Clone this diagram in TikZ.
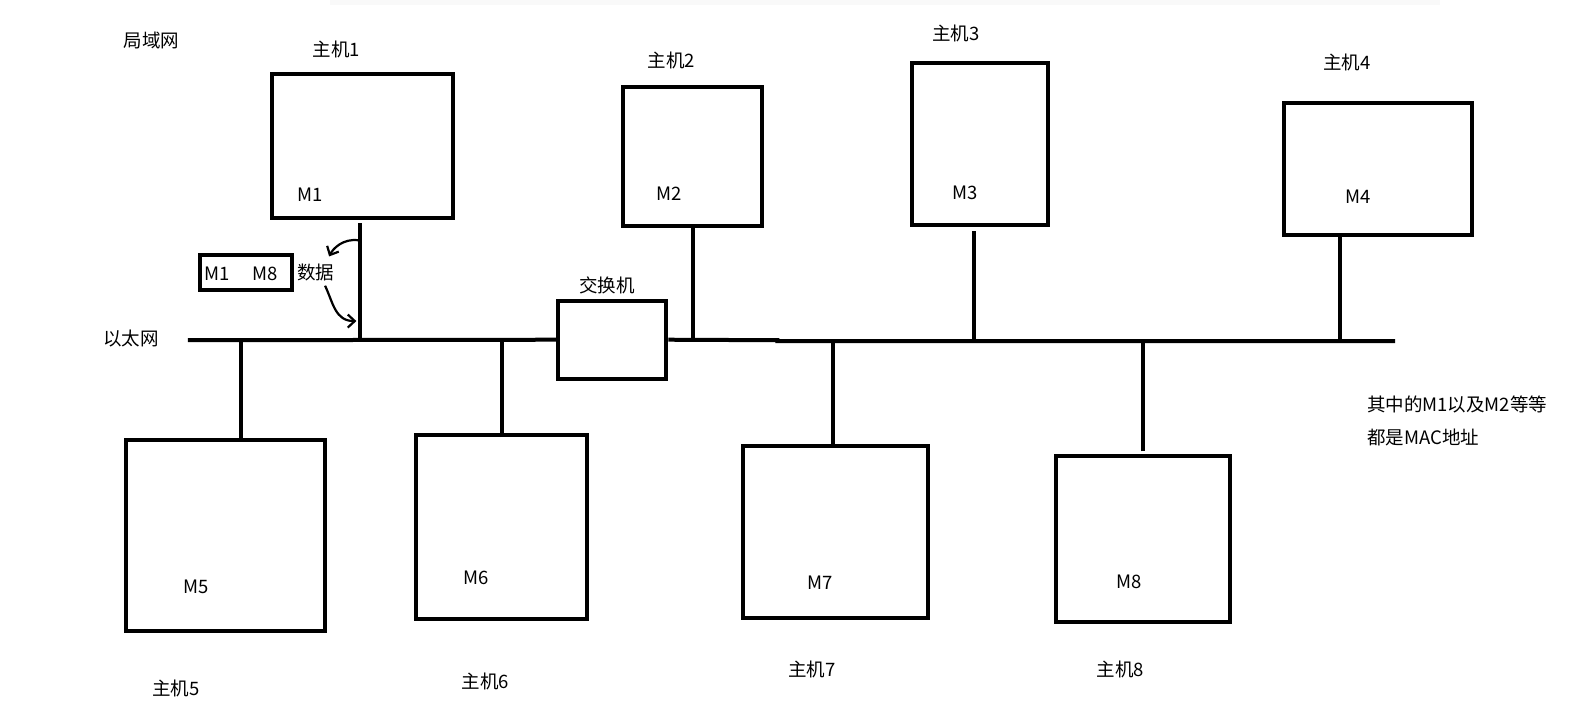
\documentclass[tikz,border=0pt]{standalone}
\usepackage{fontspec}
\setmainfont{Noto Sans CJK SC}
\usetikzlibrary{arrows.meta,fit}
\begin{document}
\begin{tikzpicture}[x=1.0096pt,y=-1.0096pt,
  box/.style={draw, line width=4pt, inner sep=0pt},
  lbl/.style={font=\fontsize{18.5}{22}\selectfont, inner sep=0pt},
  wire/.style={line width=4pt},
  flow/.style={line width=2.2pt, -{Straight Barb[length=7pt,width=13pt,line width=2.2pt]}}]
\useasboundingbox (0,0) rectangle (1568,709);
\fill[gray!5] (327,0) rectangle (1426,5);
% labels
\node[lbl] (lan) at (150,40) {局域网};
\node[lbl] (eth) at (130,335) {以太网};
% top hosts
\node[box, fit={(269,73) (449,216)}] (h1) {};
\node[lbl] (h1n) at (333,49) {主机1};
\node[lbl] (m1) at (307,193) {M1};
\node[box, fit={(617,86) (755,224)}] (h2) {};
\node[lbl] (h2n) at (665,60) {主机2};
\node[lbl] (m2) at (663,192) {M2};
\node[box, fit={(903,62) (1038,223)}] (h3) {};
\node[lbl] (h3n) at (947,33) {主机3};
\node[lbl] (m3) at (956,191) {M3};
\node[box, fit={(1272,102) (1458,233)}] (h4) {};
\node[lbl] (h4n) at (1334,62) {主机4};
\node[lbl] (m4) at (1345,195) {M4};
% bottom hosts
\node[box, fit={(125,436) (322,625)}] (h5) {};
\node[lbl] (h5n) at (174,682) {主机5};
\node[lbl] (m5) at (194,581) {M5};
\node[box, fit={(412,431) (581,613)}] (h6) {};
\node[lbl] (h6n) at (481,675) {主机6};
\node[lbl] (m6) at (472,572) {M6};
\node[box, fit={(736,442) (919,612)}] (h7) {};
\node[lbl] (h7n) at (804,663) {主机7};
\node[lbl] (m7) at (812,577) {M7};
\node[box, fit={(1046,452) (1218,616)}] (h8) {};
\node[lbl] (h8n) at (1110,663) {主机8};
\node[lbl] (m8) at (1118,576) {M8};
% switch
\node[box, fit={(553,298) (660,375)}] (sw) {};
\node[lbl] (swn) at (601,283) {交换机};
% frame box
\node[box, fit={(198,253) (289,287)}] (frame) {};
\node[lbl] (fm1) at (215,271) {M1};
\node[lbl] (fm8) at (263,271) {M8};
\node[lbl] (data) at (313,270) {数据};
% note
\node[lbl, anchor=west] (note1) at (1354,401) {其中的M1以及M2等等};
\node[lbl, anchor=west] (note2) at (1354,433) {都是MAC地址};
% bus
\coordinate (b0) at (186,337);
\coordinate (b1) at (1382,338);
\draw[wire] (b0) -- (sw.west);
\draw[wire] (sw.east) -- (770,337) -- (770,338) -- (b1);
% drops
\coordinate (t1) at (357,221); \coordinate (j1) at (357,337);
\coordinate (t2) at (686,224); \coordinate (j2) at (686,335);
\coordinate (t3) at (965,229); \coordinate (j3) at (965,338);
\coordinate (t4) at (1327,233); \coordinate (j4) at (1327,338);
\coordinate (t5) at (239,434); \coordinate (j5) at (239,337);
\coordinate (t6) at (497,433); \coordinate (j6) at (497,337);
\coordinate (t7) at (825,440); \coordinate (j7) at (825,338);
\coordinate (t8) at (1132,447); \coordinate (j8) at (1132,338);
\foreach \i in {1,...,8} {\draw[wire] (t\i) -- (j\i);}
% data arrows
\coordinate (a0) at (355,238);
\coordinate (a1) at (326,254);
\coordinate (a2) at (322,283);
\coordinate (a3) at (353,318);
\draw[flow] (a0) .. controls (340,236) and (330,246) .. (a1);
\draw[flow] (a2) .. controls (330,300) and (332,318) .. (a3);
\end{tikzpicture}
\end{document}
